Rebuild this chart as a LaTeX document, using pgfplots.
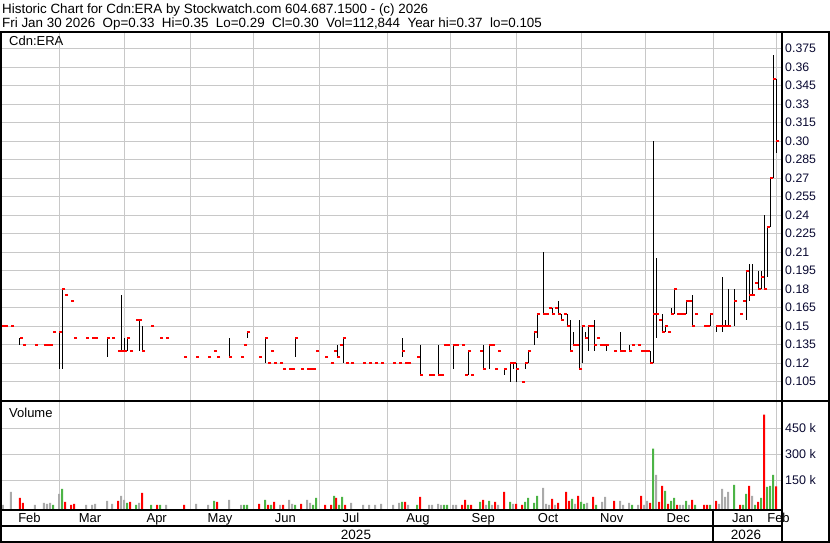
\documentclass[border=0pt]{standalone}
\usepackage{pgfplots}
\pgfplotsset{compat=1.18}
\usepackage{pgfplotstable}
\usepackage{fontspec}
\setmainfont{Liberation Sans}
\definecolor{gridc}{RGB}{200,200,200}
\definecolor{vgrey}{RGB}{170,170,170}
\definecolor{vgreen}{RGB}{76,180,70}
\definecolor{vred}{RGB}{255,0,0}
\definecolor{tickc}{RGB}{10,10,50}

% price: x position (trading-day slot), low, high, close
\pgfplotstableread{
x lo hi c
2 0.15 0.15 0.15
5 0.15 0.15 0.15
11 0.15 0.15 0.15
20 0.135 0.14 0.14
23 0.135 0.135 0.135
35 0.135 0.135 0.135
44 0.135 0.135 0.135
47 0.135 0.135 0.135
50 0.135 0.135 0.135
53 0.145 0.145 0.145
59 0.115 0.145 0.145
62 0.115 0.18 0.18
65 0.175 0.175 0.175
71 0.17 0.17 0.17
74 0.14 0.14 0.14
86 0.14 0.14 0.14
92 0.14 0.14 0.14
95 0.14 0.14 0.14
107 0.125 0.14 0.14
112 0.14 0.14 0.14
118 0.13 0.13 0.13
121 0.13 0.175 0.13
124 0.13 0.14 0.13
127 0.13 0.14 0.14
130 0.13 0.13 0.13
136 0.155 0.155 0.155
139 0.13 0.155 0.155
142 0.13 0.15 0.13
151 0.15 0.15 0.15
160 0.14 0.14 0.14
166 0.14 0.14 0.14
184 0.125 0.125 0.125
196 0.125 0.125 0.125
208 0.125 0.125 0.125
214 0.13 0.13 0.13
217 0.125 0.125 0.125
229 0.125 0.14 0.125
241 0.125 0.125 0.125
244 0.135 0.135 0.135
247 0.14 0.145 0.145
259 0.125 0.125 0.125
265 0.12 0.14 0.14
268 0.12 0.12 0.12
271 0.13 0.13 0.13
274 0.12 0.12 0.12
280 0.12 0.12 0.12
283 0.115 0.115 0.115
289 0.115 0.115 0.115
292 0.115 0.115 0.115
295 0.125 0.14 0.14
301 0.115 0.115 0.115
307 0.115 0.115 0.115
310 0.115 0.115 0.115
313 0.115 0.115 0.115
316 0.13 0.13 0.13
325 0.125 0.125 0.125
331 0.12 0.12 0.12
334 0.13 0.13 0.13
337 0.125 0.135 0.125
340 0.135 0.135 0.135
343 0.12 0.14 0.14
346 0.12 0.12 0.12
351 0.12 0.12 0.12
363 0.12 0.12 0.12
369 0.12 0.12 0.12
375 0.12 0.12 0.12
381 0.12 0.12 0.12
393 0.12 0.12 0.12
399 0.12 0.12 0.12
402 0.125 0.14 0.13
405 0.12 0.12 0.12
408 0.12 0.12 0.12
417 0.125 0.125 0.125
420 0.11 0.135 0.11
429 0.11 0.11 0.11
432 0.11 0.11 0.11
438 0.11 0.135 0.11
441 0.11 0.11 0.11
444 0.135 0.135 0.135
447 0.135 0.135 0.135
453 0.115 0.135 0.135
456 0.135 0.135 0.135
462 0.135 0.135 0.135
465 0.11 0.11 0.11
468 0.11 0.13 0.13
471 0.11 0.11 0.11
480 0.13 0.13 0.13
483 0.115 0.135 0.115
489 0.115 0.135 0.135
492 0.135 0.135 0.135
495 0.115 0.115 0.115
498 0.13 0.13 0.13
504 0.11 0.115 0.115
510 0.105 0.12 0.12
513 0.115 0.12 0.12
516 0.105 0.12 0.115
522 0.105 0.105 0.105
525 0.115 0.12 0.12
528 0.12 0.13 0.13
534 0.135 0.145 0.145
537 0.14 0.16 0.16
543 0.16 0.21 0.16
546 0.16 0.16 0.16
549 0.165 0.165 0.165
552 0.16 0.165 0.16
555 0.165 0.165 0.165
558 0.16 0.17 0.16
561 0.155 0.16 0.155
564 0.16 0.16 0.16
567 0.15 0.16 0.15
570 0.13 0.155 0.13
573 0.135 0.145 0.135
576 0.135 0.135 0.135
579 0.115 0.155 0.115
582 0.12 0.15 0.15
585 0.14 0.145 0.14
588 0.13 0.15 0.15
591 0.15 0.15 0.15
594 0.13 0.155 0.135
597 0.14 0.14 0.14
600 0.135 0.135 0.135
603 0.135 0.135 0.135
606 0.13 0.135 0.135
614 0.13 0.13 0.13
620 0.13 0.145 0.13
623 0.13 0.13 0.13
629 0.13 0.135 0.13
632 0.135 0.135 0.135
638 0.135 0.135 0.135
641 0.13 0.13 0.13
644 0.13 0.13 0.13
647 0.13 0.13 0.13
650 0.12 0.13 0.12
653 0.12 0.30 0.16
656 0.14 0.205 0.16
659 0.155 0.155 0.155
662 0.145 0.16 0.145
665 0.145 0.15 0.15
668 0.145 0.145 0.145
671 0.16 0.165 0.16
674 0.16 0.18 0.18
677 0.16 0.16 0.16
680 0.16 0.16 0.16
683 0.16 0.16 0.16
686 0.16 0.17 0.17
689 0.17 0.17 0.17
692 0.15 0.175 0.15
695 0.16 0.16 0.16
704 0.15 0.15 0.15
707 0.15 0.15 0.15
710 0.15 0.16 0.16
716 0.145 0.15 0.15
719 0.15 0.15 0.15
722 0.145 0.19 0.15
725 0.15 0.155 0.15
728 0.15 0.18 0.15
734 0.15 0.18 0.17
740 0.16 0.16 0.16
743 0.17 0.17 0.17
746 0.155 0.195 0.195
749 0.17 0.20 0.175
752 0.175 0.20 0.175
755 0.185 0.185 0.185
758 0.18 0.195 0.18
761 0.18 0.195 0.19
764 0.18 0.24 0.18
767 0.19 0.23 0.23
770 0.23 0.27 0.27
773 0.27 0.37 0.35
776 0.29 0.35 0.30
}\price

% volume in thousands
\pgfplotstableread{
x v
2 6
10 81
34 6
43 17
46 12
49 17
58 70
85 6
91 6
94 12
106 29
111 12
120 58
123 35
138 17
165 6
195 12
207 6
228 35
240 6
279 6
288 35
291 12
306 35
309 17
350 17
362 6
368 6
374 6
380 12
392 6
398 17
407 6
428 6
431 6
437 12
440 6
452 6
455 6
485 6
491 6
497 6
512 12
542 105
545 12
548 6
554 6
574 12
586 17
601 23
604 52
619 29
622 6
628 17
637 6
643 6
646 29
655 180
679 6
682 6
688 6
718 12
721 99
724 52
727 81
751 58
}\volgrey

\pgfplotstableread{
x v
19 47
22 17
64 23
70 6
73 12
117 29
129 23
141 76
156 6
183 6
216 23
258 12
267 6
273 23
282 6
300 12
324 6
330 6
335 47
344 6
404 23
419 52
461 6
464 35
470 6
482 35
494 23
503 81
515 12
521 6
551 41
557 17
565 81
568 29
577 58
592 52
613 29
640 58
649 17
658 23
661 116
667 12
676 6
691 35
703 6
706 6
715 29
739 6
748 116
757 23
763 530
775 113
}\volred

\pgfplotstableread{
x v
52 6
61 99
126 17
135 6
150 6
159 6
213 29
243 6
246 6
264 35
270 6
294 6
312 6
315 47
333 58
338 6
341 52
401 23
416 6
443 6
446 6
467 6
479 23
488 29
509 23
524 23
527 47
533 17
536 58
571 41
580 23
583 12
595 6
631 6
652 332
664 87
670 29
673 47
685 29
694 6
709 6
733 122
742 6
745 70
754 6
760 47
766 111
769 116
772 180
}\volgreen

\begin{document}
\begin{tikzpicture}
\useasboundingbox (0pt,0pt) rectangle (830pt,543pt);
\fill[white] (0pt,0pt) rectangle (830pt,543pt);

% ---------------- price panel ----------------
\begin{axis}[at={(2pt,142pt)}, anchor=south west, scale only axis,
  width=779.7pt, height=368pt,
  xmin=2, xmax=781.7, ymin=0.0892, ymax=0.3877,
  axis line style={draw=none}, tick style={draw=none},
  xtick={59.3,124.3,190.7,253.3,319.3,387.7,450.7,516.7,581.7,645,713.3,776.7},
  xticklabels={},
  ytick={0.105,0.12,0.135,0.15,0.165,0.18,0.195,0.21,0.225,0.24,0.255,0.27,0.285,0.30,0.315,0.33,0.345,0.36,0.375},
  yticklabels={0.105,0.12,0.135,0.15,0.165,0.18,0.195,0.21,0.225,0.24,0.255,0.27,0.285,0.30,0.315,0.33,0.345,0.36,0.375},
  yticklabel pos=right,
  yticklabel style={anchor=west, font=\fontsize{12.3}{14}\selectfont, text=tickc},
  grid=major, major grid style={gridc, line width=1pt},
]
\addplot[only marks, mark=-, mark size=1.5pt,
  mark options={draw=vred, line width=2pt, xshift=1.5pt},
  error bars/.cd, y dir=both, y explicit, error mark=none,
  error bar style={black, line width=1pt}]
  table[x=x, y=c, y error plus expr=\thisrow{hi}-\thisrow{c}, y error minus expr=\thisrow{c}-\thisrow{lo}] {\price};
\end{axis}

% ---------------- volume panel ----------------
\begin{axis}[at={(2pt,33pt)}, anchor=south west, scale only axis,
  width=779.7pt, height=109pt,
  xmin=2, xmax=781.7, ymin=0, ymax=633,
  axis line style={draw=none}, tick style={draw=none},
  xtick={59.3,124.3,190.7,253.3,319.3,387.7,450.7,516.7,581.7,645,713.3,776.7},
  xticklabels={},
  extra x ticks={29.5,90,156.7,220,285.3,351,418,483.3,548,611.7,678.3,742.5,778.5},
  extra x tick labels={Feb,Mar,Apr,May,Jun,Jul,Aug,Sep,Oct,Nov,Dec,Jan,Feb},
  extra x tick style={grid=none, major tick length=0pt,
     xticklabel style={anchor=base, yshift=-12.5pt, font=\fontsize{13}{15}\selectfont}},
  ytick={174,324,474}, yticklabels={150 k,300 k,450 k},
  yticklabel pos=right,
  yticklabel style={anchor=west, font=\fontsize{12.5}{14}\selectfont, text=tickc},
  grid=major, major grid style={gridc, line width=1pt},
]
\addplot[ybar, bar width=2pt, bar shift=0pt, fill=vgrey, draw=none]
  table[x expr=\thisrow{x}+1, y expr=\thisrow{v}+24] {\volgrey};
\addplot[ybar, bar width=2pt, bar shift=0pt, fill=vred, draw=none]
  table[x expr=\thisrow{x}+1, y expr=\thisrow{v}+24] {\volred};
\addplot[ybar, bar width=2pt, bar shift=0pt, fill=vgreen, draw=none]
  table[x expr=\thisrow{x}+1, y expr=\thisrow{v}+24] {\volgreen};
\end{axis}

% ---------------- frame ----------------
\begin{scope}[line width=2pt, black]
\draw (0pt,511pt) -- (830pt,511pt);
\draw (1pt,0pt) -- (1pt,512pt);
\draw (829pt,0pt) -- (829pt,512pt);
\draw (0pt,1pt) -- (830pt,1pt);
\draw (781.7pt,0pt) -- (781.7pt,512pt);
\draw (0pt,142pt) -- (830pt,142pt);
\draw (0pt,33pt) -- (781.7pt,33pt);
\draw (0pt,17pt) -- (781.7pt,17pt);
\draw (713.3pt,1pt) -- (713.3pt,33pt);
\end{scope}

% ---------------- texts ----------------
\node[anchor=base west, inner sep=0pt, font=\fontsize{13.4}{16}\selectfont] at (2pt,529pt)
  {Historic Chart for Cdn:ERA by Stockwatch.com 604.687.1500 - (c) 2026};
\node[anchor=base west, inner sep=0pt, font=\fontsize{13.4}{16}\selectfont] at (2pt,515.7pt)
  {Fri Jan 30 2026\ \ Op=0.33\ \ Hi=0.35\ \ Lo=0.29\ \ Cl=0.30\ \ Vol=112,844\ \ Year hi=0.37\ \ lo=0.105};
\node[anchor=base west, inner sep=0pt, font=\fontsize{13}{15}\selectfont] at (9pt,497pt) {Cdn:ERA};
\node[anchor=base west, inner sep=0pt, font=\fontsize{13}{15}\selectfont] at (9pt,125.3pt) {Volume};
\node[anchor=base, inner sep=0pt, font=\fontsize{13.5}{15}\selectfont] at (356pt,3.7pt) {2025};
\node[anchor=base, inner sep=0pt, font=\fontsize{13.5}{15}\selectfont] at (746pt,3.7pt) {2026};
\end{tikzpicture}
\end{document}
